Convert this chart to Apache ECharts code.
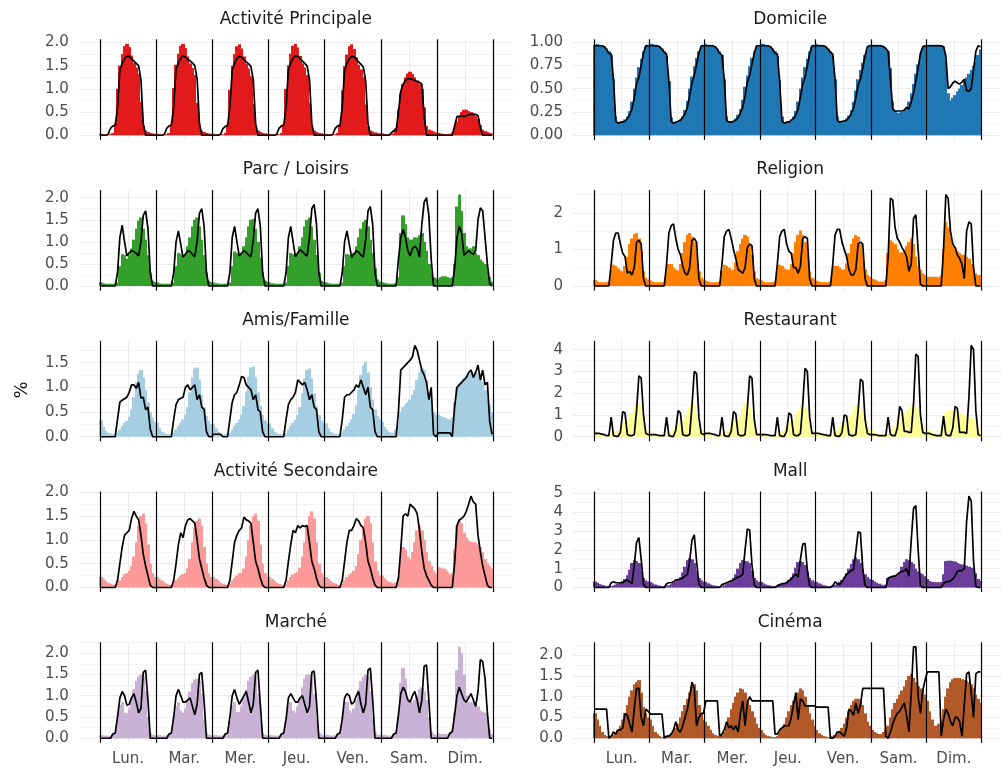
<!DOCTYPE html>
<html><head><meta charset="utf-8">
<script src="https://cdn.jsdelivr.net/npm/echarts@6/dist/echarts.min.js"></script>
<style>html,body{margin:0;padding:0;background:#fff}#c{width:1001px;height:771px}</style>
</head><body><div id="c"></div>
<script>
const days = ['Lun.','Mar.','Mer.','Jeu.','Ven.','Sam.','Dim.'];
const dayCenters = [12,36,60,84,108,132,156];
const dayBounds = [0,24,48,72,96,120,144,168];
const titles = ['Activité Principale','Domicile','Parc / Loisirs','Religion','Amis/Famille','Restaurant','Activité Secondaire','Mall','Marché','Cinéma'];
const ticksHalf = [0,0.5,1,1.5,2];
const minorHalf = [0.25,0.75,1.25,1.75,2.25];
const ticksQuarter = [0,0.25,0.5,0.75,1];
const minorQuarter = [0.125,0.375,0.625,0.875];
const ticksUnit = [0,1,2,3,4,5];
const minorUnit = [0.5,1.5,2.5,3.5,4.5];

const apBars = [
0.03,0.02,0.01,0.01,0.02,0.05,0.25,1.0,1.5,1.75,1.92,1.97,1.9,1.72,1.56,1.46,1.32,0.72,0.2,0.1,0.07,0.05,0.04,0.03,
0.03,0.02,0.01,0.01,0.02,0.05,0.24,1.02,1.52,1.76,1.93,1.97,1.88,1.7,1.55,1.45,1.3,0.7,0.2,0.1,0.07,0.05,0.04,0.03,
0.03,0.02,0.01,0.01,0.02,0.05,0.23,0.98,1.5,1.75,1.92,1.96,1.87,1.7,1.54,1.44,1.28,0.68,0.19,0.1,0.07,0.05,0.04,0.03,
0.03,0.02,0.01,0.01,0.02,0.05,0.24,1.0,1.51,1.76,1.93,1.97,1.89,1.71,1.55,1.46,1.3,0.71,0.2,0.1,0.07,0.05,0.04,0.03,
0.03,0.02,0.01,0.01,0.02,0.05,0.23,0.97,1.49,1.74,1.92,1.96,1.86,1.68,1.52,1.42,1.25,0.66,0.19,0.1,0.08,0.06,0.05,0.04,
0.04,0.03,0.02,0.02,0.02,0.04,0.15,0.55,0.9,1.1,1.25,1.33,1.37,1.32,1.25,1.18,1.1,1.0,0.6,0.2,0.12,0.1,0.08,0.06,
0.05,0.04,0.03,0.02,0.02,0.03,0.06,0.15,0.3,0.42,0.5,0.55,0.55,0.52,0.5,0.46,0.42,0.35,0.22,0.12,0.09,0.07,0.05,0.04];
const apLine = [
0,0,0,0.02,0.15,0.2,0.2,0.6,1.4,1.55,1.65,1.7,1.7,1.65,1.6,1.55,1.5,1.2,0.25,0,0,0,0,0,
0,0,0,0.02,0.15,0.2,0.21,0.62,1.42,1.56,1.66,1.71,1.69,1.64,1.6,1.56,1.5,1.22,0.26,0,0,0,0,0,
0,0,0,0.02,0.14,0.19,0.2,0.6,1.4,1.55,1.65,1.7,1.68,1.63,1.58,1.54,1.48,1.2,0.25,0,0,0,0,0,
0,0,0,0.02,0.15,0.2,0.21,0.61,1.41,1.56,1.66,1.71,1.7,1.65,1.6,1.55,1.49,1.21,0.25,0,0,0,0,0,
0,0,0,0.02,0.15,0.2,0.2,0.6,1.4,1.55,1.65,1.7,1.69,1.64,1.58,1.53,1.47,1.18,0.24,0,0,0,0,0,
0,0,0,0,0.05,0.1,0.1,0.5,0.95,1.1,1.18,1.22,1.22,1.2,1.18,1.16,1.14,1.1,0.4,0,0,0,0,0,
0,0,0,0,0,0,0,0.2,0.4,0.41,0.42,0.4,0.42,0.44,0.45,0.45,0.45,0.42,0.15,0,0,0,0,0];

const domBars = [
0.97,0.98,0.97,0.96,0.95,0.93,0.9,0.86,0.6,0.2,0.14,0.14,0.15,0.17,0.2,0.26,0.36,0.5,0.62,0.73,0.82,0.9,0.95,0.97,
0.98,0.98,0.97,0.96,0.95,0.93,0.9,0.85,0.58,0.19,0.14,0.14,0.15,0.17,0.2,0.27,0.37,0.5,0.63,0.74,0.83,0.9,0.95,0.97,
0.98,0.97,0.97,0.96,0.95,0.93,0.9,0.86,0.6,0.2,0.15,0.14,0.15,0.18,0.22,0.28,0.38,0.52,0.64,0.74,0.83,0.9,0.95,0.97,
0.98,0.98,0.97,0.96,0.95,0.93,0.9,0.85,0.59,0.2,0.14,0.14,0.15,0.17,0.2,0.26,0.36,0.5,0.62,0.73,0.82,0.9,0.95,0.97,
0.98,0.97,0.97,0.96,0.95,0.93,0.9,0.85,0.6,0.2,0.15,0.15,0.16,0.18,0.21,0.27,0.36,0.48,0.6,0.7,0.78,0.86,0.92,0.95,
0.97,0.97,0.97,0.97,0.96,0.95,0.93,0.9,0.72,0.36,0.26,0.24,0.24,0.25,0.27,0.3,0.36,0.45,0.55,0.66,0.76,0.86,0.93,0.96,
0.97,0.97,0.97,0.97,0.97,0.97,0.96,0.95,0.8,0.45,0.37,0.4,0.43,0.47,0.5,0.54,0.58,0.62,0.66,0.7,0.74,0.8,0.86,0.92];
const domLine = [
0.96,0.96,0.96,0.96,0.95,0.92,0.88,0.87,0.6,0.15,0.13,0.14,0.14,0.15,0.18,0.22,0.28,0.4,0.55,0.62,0.75,0.88,0.96,0.96,
0.96,0.96,0.96,0.96,0.95,0.92,0.89,0.87,0.58,0.15,0.13,0.14,0.15,0.16,0.19,0.23,0.3,0.42,0.56,0.64,0.76,0.88,0.96,0.96,
0.96,0.96,0.96,0.96,0.95,0.92,0.88,0.86,0.6,0.16,0.14,0.14,0.15,0.16,0.19,0.24,0.3,0.42,0.57,0.64,0.76,0.88,0.96,0.96,
0.96,0.96,0.96,0.96,0.95,0.92,0.88,0.87,0.58,0.15,0.13,0.14,0.14,0.16,0.18,0.22,0.28,0.41,0.55,0.62,0.75,0.87,0.96,0.96,
0.96,0.96,0.96,0.96,0.95,0.92,0.89,0.87,0.6,0.16,0.14,0.15,0.15,0.16,0.19,0.23,0.29,0.4,0.54,0.6,0.72,0.85,0.95,0.96,
0.96,0.96,0.96,0.96,0.96,0.95,0.93,0.9,0.6,0.28,0.26,0.26,0.26,0.26,0.27,0.3,0.28,0.36,0.45,0.58,0.72,0.88,0.95,0.96,
0.96,0.96,0.96,0.96,0.96,0.96,0.96,0.95,0.85,0.5,0.52,0.56,0.58,0.56,0.55,0.57,0.6,0.48,0.47,0.5,0.7,0.9,0.96,0.95];

const parcBars = [
0.08,0.06,0.05,0.05,0.05,0.05,0.05,0.08,0.45,0.72,0.7,0.62,0.7,0.85,1.05,1.3,1.48,1.55,1.3,1.05,0.7,0.3,0.12,0.09,
0.08,0.06,0.05,0.05,0.05,0.05,0.05,0.08,0.45,0.75,0.72,0.65,0.72,0.9,1.1,1.35,1.5,1.55,1.35,1.05,0.7,0.3,0.12,0.09,
0.08,0.06,0.05,0.05,0.05,0.05,0.05,0.08,0.45,0.78,0.75,0.68,0.75,0.9,1.1,1.35,1.5,1.52,1.3,1.0,0.65,0.3,0.12,0.09,
0.08,0.06,0.05,0.05,0.05,0.05,0.05,0.08,0.45,0.75,0.72,0.65,0.72,0.9,1.1,1.35,1.5,1.55,1.35,1.05,0.7,0.3,0.12,0.09,
0.08,0.06,0.05,0.05,0.05,0.05,0.05,0.08,0.45,0.72,0.7,0.65,0.75,0.9,1.1,1.3,1.45,1.5,1.35,1.05,0.75,0.4,0.15,0.1,
0.08,0.07,0.06,0.05,0.05,0.05,0.06,0.2,1.2,1.6,1.4,1.1,1.05,1.05,1.1,1.1,1.15,1.2,1.0,0.8,0.5,0.3,0.2,0.18,
0.15,0.2,0.22,0.22,0.2,0.18,0.2,0.5,1.8,2.07,1.7,1.2,0.9,0.85,0.85,0.9,0.75,0.7,0.6,0.55,0.5,0.35,0.2,0.1];
const parcLine = [
0,0,0,0,0,0,0,0.3,1.1,1.38,1.0,0.68,0.75,0.8,0.78,0.74,0.68,1.0,1.6,1.7,1.3,0.3,0,0,
0,0,0,0,0,0,0,0.3,1.0,1.25,0.95,0.65,0.72,0.8,0.78,0.72,0.66,1.0,1.65,1.75,1.35,0.3,0,0,
0,0,0,0,0,0,0,0.3,1.1,1.35,1.0,0.68,0.74,0.8,0.76,0.7,0.66,1.05,1.65,1.75,1.35,0.3,0,0,
0,0,0,0,0,0,0,0.3,1.1,1.35,1.0,0.66,0.75,0.82,0.78,0.72,0.68,1.1,1.75,1.85,1.4,0.3,0,0,
0,0,0,0,0,0,0,0.3,1.0,1.25,0.95,0.65,0.72,0.8,0.76,0.7,0.66,1.05,1.7,1.8,1.4,0.3,0,0,
0,0,0,0,0,0,0,0.6,1.1,1.28,1.1,0.8,0.68,0.85,0.9,0.85,0.65,1.4,1.9,2.0,1.6,0.6,0,0,
0,0,0,0,0,0,0,0.4,1.1,1.35,1.2,0.7,0.75,0.8,0.75,0.72,0.8,1.5,1.77,1.7,1.1,0.5,0.05,0];

const relBars = [
0.16,0.12,0.1,0.1,0.1,0.1,0.12,0.45,0.58,0.55,0.48,0.42,0.4,0.55,0.8,1.15,1.3,1.42,1.45,1.3,0.95,0.4,0.22,0.18,
0.15,0.12,0.1,0.1,0.1,0.1,0.12,0.4,0.6,0.6,0.5,0.45,0.42,0.6,0.9,1.2,1.4,1.45,1.35,1.2,0.9,0.4,0.22,0.18,
0.15,0.12,0.1,0.1,0.1,0.1,0.12,0.42,0.58,0.55,0.5,0.42,0.45,0.65,0.95,1.15,1.3,1.4,1.35,1.1,0.85,0.4,0.22,0.18,
0.15,0.12,0.1,0.1,0.1,0.1,0.12,0.42,0.58,0.55,0.48,0.45,0.45,0.6,0.9,1.2,1.4,1.52,1.4,1.2,0.9,0.4,0.22,0.18,
0.15,0.12,0.1,0.1,0.1,0.1,0.12,0.4,0.55,0.55,0.5,0.45,0.45,0.62,0.9,1.15,1.3,1.4,1.35,1.15,0.9,0.45,0.3,0.25,
0.2,0.18,0.15,0.12,0.12,0.12,0.15,0.9,1.25,1.2,1.15,1.0,0.9,0.92,1.0,1.1,1.2,1.3,1.15,0.8,0.55,0.45,0.35,0.3,
0.25,0.25,0.25,0.25,0.25,0.25,0.3,1.0,1.75,1.6,1.35,1.1,1.05,0.95,0.9,0.85,0.85,0.8,0.75,0.6,0.45,0.35,0.3,0.3];
const relLine = [
0,0,0,0,0,0,0,0.6,1.25,1.45,1.45,1.15,0.9,0.8,0.35,0.4,0.3,0.5,1.2,1.25,1.15,0.2,0,0,
0,0,0,0,0,0,0,0.6,1.45,1.65,1.7,1.3,1.0,0.85,0.55,0.35,0.3,0.5,1.25,1.3,1.2,0.2,0,0,
0,0,0,0,0,0,0,0.6,1.35,1.5,1.55,1.3,1.0,0.75,0.45,0.4,0.35,0.5,1.05,1.15,1.1,0.2,0,0,
0,0,0,0,0,0,0,0.6,1.35,1.5,1.55,1.15,0.95,0.9,0.5,0.5,0.35,0.55,1.3,1.35,1.3,0.2,0,0,
0,0,0,0,0,0,0,0.6,1.4,1.55,1.55,1.2,1.0,0.8,0.45,0.3,0.3,0.45,1.15,1.2,1.15,0.2,0,0,
0,0,0,0,0,0,0,0.8,2.4,2.35,1.6,1.3,1.2,1.05,0.95,0.8,0.4,0.6,1.85,1.95,1.0,0.05,0,0,
0,0,0,0,0,0,0,1.0,2.5,2.4,1.5,1.15,1.05,0.85,0.75,0.6,0.2,1.5,1.75,1.7,0.5,0,0,0];

const amisBars = [
0.33,0.2,0.12,0.08,0.06,0.05,0.05,0.08,0.15,0.22,0.28,0.32,0.4,0.55,0.8,1.1,1.28,1.35,1.2,0.95,0.7,0.5,0.38,0.3,
0.28,0.18,0.1,0.07,0.05,0.05,0.05,0.08,0.15,0.22,0.28,0.35,0.45,0.6,0.9,1.2,1.38,1.4,1.15,0.85,0.6,0.42,0.32,0.26,
0.26,0.17,0.1,0.07,0.05,0.05,0.05,0.08,0.15,0.22,0.28,0.35,0.45,0.62,0.92,1.22,1.4,1.42,1.2,0.9,0.62,0.44,0.33,0.27,
0.27,0.17,0.1,0.07,0.05,0.05,0.05,0.08,0.15,0.22,0.28,0.34,0.44,0.6,0.88,1.18,1.35,1.38,1.18,0.88,0.62,0.44,0.33,0.27,
0.27,0.17,0.1,0.07,0.05,0.05,0.05,0.08,0.15,0.22,0.28,0.35,0.46,0.64,0.95,1.25,1.45,1.52,1.3,1.0,0.75,0.55,0.42,0.35,
0.3,0.2,0.15,0.1,0.08,0.08,0.15,0.3,0.5,0.6,0.65,0.7,0.75,0.85,0.95,1.15,1.3,1.38,1.35,1.15,0.85,0.6,0.5,0.45,
0.45,0.42,0.4,0.38,0.36,0.35,0.4,0.7,1.0,1.08,1.12,1.18,1.22,1.26,1.3,1.32,1.3,1.28,1.2,1.1,0.95,0.8,0.65,0.5];
const amisLine = [
0,0,0,0,0,0,0,0.35,0.7,0.74,0.77,0.8,0.9,1.05,1.05,0.98,1.1,0.78,0.8,0.55,0.6,0.15,0,0,
0,0,0,0,0,0,0,0.35,0.65,0.75,0.78,0.8,1.0,1.05,0.95,1.0,1.05,0.75,0.85,0.6,0.55,0.1,0,0,
0.05,0.05,0.05,0.05,0,0,0,0.35,0.7,0.85,0.9,1.05,1.22,1.2,1.05,1.0,0.95,0.75,0.85,0.55,0.5,0.1,0,0,
0,0,0,0,0,0,0,0.35,0.65,0.75,0.8,0.9,1.15,1.1,1.05,1.1,0.95,0.75,0.85,0.6,0.55,0.1,0,0,
0,0,0,0,0,0,0,0.35,0.8,0.85,0.85,0.9,0.95,1.05,1.0,1.15,1.0,0.85,1.0,0.6,0.55,0.1,0,0,
0,0,0,0,0,0,0,0.5,1.35,1.4,1.45,1.5,1.55,1.62,1.85,1.75,1.55,1.35,1.25,1.1,0.75,1.0,0.05,0,
0.08,0.08,0.08,0.08,0.08,0.08,0,0.6,1.0,1.05,1.1,1.15,1.2,1.3,1.35,1.2,1.3,1.45,1.15,1.35,1.05,1.1,0.3,0.05];

const restoBars = [
0.25,0.15,0.1,0.08,0.06,0.05,0.05,0.1,0.15,0.2,0.3,0.45,0.6,0.7,0.75,0.85,1.1,1.4,1.6,1.5,1.1,0.6,0.35,0.25,
0.2,0.15,0.1,0.08,0.06,0.05,0.05,0.1,0.15,0.2,0.3,0.45,0.6,0.7,0.75,0.85,1.1,1.35,1.55,1.45,1.05,0.55,0.3,0.2,
0.2,0.15,0.1,0.08,0.06,0.05,0.05,0.1,0.15,0.25,0.35,0.5,0.65,0.75,0.8,0.95,1.3,1.6,1.55,1.3,0.9,0.5,0.3,0.2,
0.2,0.15,0.1,0.08,0.06,0.05,0.05,0.1,0.15,0.25,0.35,0.5,0.6,0.7,0.75,0.9,1.2,1.4,1.45,1.35,1.0,0.55,0.3,0.25,
0.25,0.15,0.1,0.08,0.06,0.05,0.05,0.1,0.2,0.3,0.4,0.55,0.7,0.8,0.85,1.0,1.2,1.4,1.45,1.4,1.2,0.8,0.45,0.35,
0.35,0.3,0.2,0.15,0.1,0.08,0.08,0.15,0.25,0.35,0.5,0.7,0.9,1.05,1.1,1.2,1.3,1.4,1.45,1.4,1.2,0.9,0.6,0.45,
0.35,0.3,0.2,0.15,0.12,0.15,0.4,0.85,1.1,1.2,1.22,1.22,1.2,1.15,1.1,1.05,1.0,0.95,0.9,0.88,0.8,0.6,0.4,0.3];
const restoLine = [
0.15,0.15,0.15,0.12,0.1,0.05,0.05,0.9,0.05,0.02,0.02,0.2,1.15,1.1,0.1,0.05,0.05,0.1,1.2,2.8,2.7,1.0,0.15,0.1,
0.1,0.1,0.1,0.08,0.05,0.05,0.05,0.9,0.05,0.02,0.02,0.3,1.2,1.1,0.1,0.05,0.05,0.1,1.4,3.0,2.9,0.9,0.15,0.1,
0.15,0.15,0.15,0.12,0.1,0.05,0.05,0.9,0.05,0.02,0.02,0.25,1.15,1.05,0.1,0.05,0.05,0.1,1.3,2.8,2.7,0.8,0.1,0.1,
0.1,0.1,0.1,0.08,0.05,0.05,0.05,0.9,0.05,0.02,0.02,0.25,1.1,1.0,0.1,0.05,0.05,0.15,1.5,3.15,3.0,0.9,0.15,0.15,
0.15,0.15,0.12,0.1,0.08,0.05,0.05,0.9,0.05,0.02,0.02,0.2,1.0,0.95,0.1,0.05,0.05,0.1,1.2,2.65,2.55,0.8,0.15,0.1,
0.1,0.1,0.08,0.05,0.05,0.05,0.05,0.9,0.1,0.05,0.05,0.4,1.4,1.2,0.25,0.25,0.2,0.2,1.5,3.8,3.7,1.0,0.2,0.15,
0.15,0.15,0.1,0.08,0.05,0.05,0.05,0.95,0.1,0.05,0.05,0.4,1.4,1.3,0.2,0.2,0.2,0.15,1.8,4.2,4.0,1.2,0.1,0.05];

const secBars = [
0.22,0.18,0.14,0.1,0.08,0.06,0.05,0.08,0.15,0.22,0.28,0.3,0.35,0.45,0.65,0.95,1.3,1.5,1.55,1.35,0.9,0.5,0.3,0.22,
0.22,0.18,0.14,0.1,0.08,0.06,0.05,0.08,0.15,0.2,0.25,0.28,0.3,0.4,0.6,0.95,1.25,1.4,1.45,1.3,0.85,0.5,0.3,0.22,
0.22,0.18,0.14,0.1,0.08,0.06,0.05,0.08,0.15,0.2,0.25,0.3,0.3,0.4,0.65,1.0,1.3,1.5,1.55,1.4,0.9,0.5,0.3,0.22,
0.22,0.18,0.14,0.1,0.08,0.06,0.05,0.08,0.15,0.22,0.27,0.3,0.32,0.42,0.65,0.95,1.3,1.5,1.6,1.45,0.95,0.5,0.3,0.22,
0.22,0.18,0.14,0.1,0.08,0.06,0.05,0.08,0.15,0.22,0.27,0.3,0.35,0.45,0.7,1.0,1.3,1.45,1.5,1.35,0.95,0.55,0.35,0.25,
0.25,0.2,0.15,0.12,0.1,0.08,0.1,0.2,0.6,0.85,0.8,0.65,0.6,0.75,0.95,1.2,1.3,1.2,1.0,0.75,0.55,0.45,0.35,0.3,
0.42,0.42,0.4,0.38,0.33,0.28,0.3,0.8,1.3,1.4,1.35,1.15,1.05,0.98,0.96,0.95,0.95,0.9,0.85,0.75,0.6,0.5,0.45,0.4];
const secLine = [
0,0,0,0,0,0,0,0.15,0.5,0.85,1.1,1.15,1.2,1.45,1.6,1.5,1.42,1.1,0.7,0.45,0.25,0.05,0,0,
0,0,0,0,0,0,0,0.15,0.5,0.9,1.15,1.05,1.3,1.42,1.45,1.4,1.35,1.0,0.6,0.4,0.2,0.05,0,0,
0,0,0,0,0,0,0,0.15,0.55,0.95,1.1,1.2,1.25,1.48,1.42,1.4,1.35,0.95,0.55,0.4,0.2,0.05,0,0,
0,0,0,0,0,0,0,0.15,0.55,0.9,1.2,1.15,1.3,1.25,1.3,1.28,1.3,0.95,0.55,0.4,0.2,0.05,0,0,
0,0,0,0,0,0,0,0.15,0.55,0.95,1.2,1.2,1.3,1.45,1.4,1.3,1.25,0.95,0.55,0.4,0.2,0.05,0,0,
0,0,0,0,0,0,0,0.2,0.8,1.5,1.55,1.5,1.75,1.7,1.65,1.55,1.2,0.75,0.4,0.25,0.15,0.05,0,0,
0,0,0,0,0,0,0,0.5,1.3,1.42,1.45,1.5,1.6,1.75,1.92,1.8,1.75,1.1,0.75,0.45,0.25,0.05,0,0];

const mallBars = [
0.31,0.25,0.18,0.14,0.1,0.08,0.08,0.08,0.1,0.15,0.2,0.25,0.35,0.45,0.65,0.95,1.3,1.45,1.4,1.3,0.9,0.5,0.38,0.32,
0.3,0.22,0.16,0.12,0.1,0.08,0.08,0.08,0.12,0.18,0.25,0.3,0.4,0.55,0.8,1.1,1.45,1.55,1.5,1.3,0.9,0.5,0.38,0.3,
0.3,0.22,0.16,0.12,0.1,0.08,0.08,0.08,0.12,0.18,0.25,0.35,0.5,0.7,1.0,1.3,1.45,1.4,1.38,1.3,0.9,0.5,0.38,0.3,
0.3,0.22,0.16,0.12,0.1,0.08,0.08,0.08,0.12,0.18,0.25,0.3,0.4,0.55,0.75,1.05,1.35,1.4,1.35,1.2,0.85,0.5,0.38,0.3,
0.3,0.22,0.16,0.12,0.1,0.08,0.08,0.1,0.15,0.2,0.3,0.4,0.55,0.75,1.0,1.25,1.5,1.6,1.5,1.3,1.0,0.7,0.55,0.45,
0.4,0.32,0.25,0.2,0.15,0.12,0.15,0.5,0.55,0.6,0.62,0.65,0.8,1.1,1.35,1.5,1.45,1.35,1.25,1.0,0.85,0.75,0.7,0.6,
0.45,0.35,0.3,0.28,0.28,0.28,0.3,0.7,1.4,1.42,1.42,1.4,1.38,1.3,1.25,1.22,1.2,1.15,1.1,1.05,1.0,0.75,0.45,0.35];
const mallLine = [
0,0,0,0,0,0,0,0.25,0.3,0.25,0.25,0.25,0.25,0.35,0.4,0.3,0.2,1.2,2.4,2.65,1.5,0.2,0,0,
0,0,0,0,0,0,0,0.2,0.25,0.25,0.3,0.4,0.42,0.45,0.5,0.6,0.7,1.4,2.5,2.8,1.4,0.2,0,0,
0,0,0,0,0,0,0,0.15,0.2,0.25,0.3,0.35,0.4,0.5,0.55,0.6,0.7,2.0,3.1,3.05,1.2,0.15,0,0,
0,0,0,0,0,0,0,0.1,0.15,0.2,0.2,0.25,0.35,0.45,0.6,0.7,0.55,1.5,2.3,2.35,0.9,0.1,0,0,
0,0,0,0,0,0,0,0.1,0.3,0.2,0.15,0.3,0.5,0.7,0.8,0.9,0.95,1.9,2.95,2.9,1.0,0.1,0,0,
0,0,0,0,0,0,0,0.5,0.55,0.6,0.6,0.7,0.8,0.85,0.9,1.0,0.6,2.5,4.2,4.35,2.0,0.1,0,0,
0,0,0,0,0,0,0,0.2,0.3,0.3,0.35,0.45,0.6,0.85,0.9,0.9,1.0,3.5,4.85,4.6,1.4,0.05,0,0];

const marcheBars = [
0.08,0.07,0.06,0.06,0.06,0.08,0.1,0.4,0.78,0.85,0.6,0.6,0.7,0.95,1.15,1.35,1.45,1.5,1.45,1.1,0.5,0.12,0.08,0.08,
0.08,0.07,0.06,0.06,0.06,0.08,0.1,0.4,0.75,0.85,0.65,0.6,0.7,0.9,1.1,1.3,1.38,1.4,1.35,1.05,0.45,0.12,0.08,0.08,
0.08,0.07,0.06,0.06,0.06,0.08,0.1,0.4,0.78,0.85,0.62,0.62,0.75,0.95,1.15,1.35,1.45,1.5,1.45,1.05,0.45,0.12,0.08,0.08,
0.08,0.07,0.06,0.06,0.06,0.08,0.1,0.4,0.75,0.85,0.65,0.6,0.75,0.95,1.2,1.4,1.5,1.5,1.4,1.05,0.45,0.12,0.08,0.08,
0.08,0.07,0.06,0.06,0.06,0.08,0.1,0.4,0.75,0.85,0.65,0.6,0.7,0.9,1.15,1.35,1.45,1.5,1.45,1.1,0.5,0.12,0.08,0.08,
0.08,0.08,0.07,0.06,0.06,0.08,0.12,0.5,1.3,1.65,1.4,0.95,0.85,0.85,0.9,1.0,1.15,1.2,1.1,0.9,0.5,0.15,0.1,0.08,
0.12,0.1,0.1,0.1,0.1,0.12,0.2,0.6,1.6,2.15,2.0,1.5,1.0,0.85,0.85,0.82,0.8,0.75,0.65,0.62,0.6,0.45,0.2,0.1];
const marcheLine = [
0,0,0,0,0,0.1,0.12,0.5,0.95,1.1,1.0,0.78,0.8,0.95,1.05,0.85,0.6,0.7,1.55,1.6,0.9,0,0,0,
0,0,0,0,0,0.1,0.12,0.5,1.0,1.15,1.0,0.85,0.85,0.9,0.95,0.75,0.55,0.8,1.5,1.55,0.85,0,0,0,
0,0,0,0,0,0.1,0.12,0.5,1.0,1.15,0.95,0.8,0.9,1.0,1.1,0.85,0.6,0.8,1.55,1.6,0.8,0,0,0,
0,0,0,0,0,0.1,0.12,0.45,0.95,1.05,0.95,0.85,0.85,0.95,1.0,0.8,0.6,0.75,1.55,1.58,0.85,0,0,0,
0,0,0,0,0,0.1,0.12,0.45,0.95,1.05,1.0,0.8,0.85,1.0,1.1,0.8,0.6,0.8,1.6,1.65,0.9,0,0,0,
0,0,0,0,0,0.1,0.12,0.55,1.05,1.2,1.1,0.9,0.85,1.0,1.1,0.9,0.6,0.9,1.7,1.72,0.9,0,0,0,
0,0,0,0,0,0.12,0.15,0.55,1.0,1.2,1.05,0.9,0.85,0.95,1.05,0.9,0.75,1.1,1.85,1.8,1.4,0.6,0,0];

const cineBars = [
0.6,0.45,0.3,0.15,0.08,0.05,0.03,0.05,0.08,0.12,0.2,0.3,0.45,0.6,0.8,1.0,1.15,1.3,1.35,1.4,1.1,0.75,0.6,0.5,
0.45,0.3,0.15,0.1,0.05,0.03,0.03,0.05,0.08,0.12,0.2,0.25,0.35,0.5,0.65,0.8,0.95,1.1,1.25,1.3,1.15,0.8,0.6,0.45,
0.4,0.3,0.2,0.12,0.08,0.05,0.05,0.08,0.15,0.3,0.5,0.7,0.85,1.0,1.1,1.2,1.18,1.1,0.95,0.8,0.65,0.5,0.35,0.25,
0.2,0.12,0.08,0.05,0.04,0.03,0.03,0.05,0.15,0.25,0.35,0.5,0.65,0.8,0.9,1.0,1.1,1.2,1.15,1.0,0.8,0.6,0.45,0.3,
0.2,0.12,0.08,0.05,0.04,0.03,0.03,0.05,0.08,0.12,0.18,0.25,0.35,0.5,0.65,0.8,0.9,0.95,0.95,0.9,0.8,0.6,0.4,0.3,
0.2,0.15,0.12,0.1,0.1,0.15,0.22,0.3,0.5,0.7,0.85,0.95,1.05,1.15,1.25,1.4,1.5,1.55,1.45,1.35,1.25,1.2,1.15,1.05,
0.9,0.65,0.45,0.3,0.3,0.35,0.45,0.7,1.0,1.2,1.35,1.42,1.45,1.45,1.45,1.42,1.4,1.38,1.35,1.3,1.2,1.05,0.95,0.85];
const cineLine = [
0.7,0.7,0.7,0.7,0.7,0.7,0,0.05,0.15,0.1,0.2,0.2,0.25,0.6,0.55,0.35,0.15,0.7,1.2,1.2,0.5,0.3,0.7,0.65,
0.58,0.58,0.58,0.58,0.58,0.58,0,0.05,0.05,0.1,0.2,0.4,0.2,0.15,0.3,0.5,0.7,1.0,1.35,1.2,0.3,0.5,0.6,0.6,
0.9,0.9,0.9,0.9,0.9,0.9,0.05,0.1,0.2,0.4,0.25,0.3,0.2,0.3,0.15,0.6,0.9,0.3,0.85,1.0,0.9,0.9,0.9,0.9,
0.9,0.9,0.9,0.9,0.9,0.9,0.1,0.1,0.2,0.25,0.3,0.3,0.3,0.5,0.8,1.1,0.45,0.95,0.9,0.78,0.78,0.78,0.78,0.78,
0.75,0.75,0.75,0.75,0.75,0.75,0,0,0.05,0.15,0.15,0.1,0.05,0.25,0.7,0.65,0.55,0.85,0.6,0.8,1.2,1.2,1.2,1.2,
1.2,1.2,1.2,1.2,1.2,1.2,0.05,0,0.15,0.35,0.5,0.6,0.65,0.75,0.85,0.55,0.15,1.1,2.2,2.2,1.0,0.6,1.15,1.4,
1.6,1.6,1.6,1.6,1.6,1.6,0.05,0.45,0.7,0.6,0.4,0.3,0.5,0.5,0.4,0.05,0.8,1.55,1.6,1.1,0.5,1.55,1.6,1.6];

const panels = [
  {bars: apBars, line: apLine, color: '#E31A1C', ticks: ticksHalf, minor: minorHalf, dec: 1},
  {bars: domBars, line: domLine, color: '#1F78B4', ticks: ticksQuarter, minor: minorQuarter, dec: 2},
  {bars: parcBars, line: parcLine, color: '#33A02C', ticks: ticksHalf, minor: minorHalf, dec: 1},
  {bars: relBars, line: relLine, color: '#FF7F00', ticks: ticksUnit, minor: minorUnit, dec: 0},
  {bars: amisBars, line: amisLine, color: '#A6CEE3', ticks: ticksHalf, minor: minorHalf, dec: 1},
  {bars: restoBars, line: restoLine, color: '#FFFF99', ticks: ticksUnit, minor: minorUnit, dec: 0},
  {bars: secBars, line: secLine, color: '#FB9A99', ticks: ticksHalf, minor: minorHalf, dec: 1},
  {bars: mallBars, line: mallLine, color: '#6A3D9A', ticks: ticksUnit, minor: minorUnit, dec: 0},
  {bars: marcheBars, line: marcheLine, color: '#CAB2D6', ticks: ticksHalf, minor: minorHalf, dec: 1},
  {bars: cineBars, line: cineLine, color: '#B15928', ticks: ticksHalf, minor: minorHalf, dec: 1}
];

const FONT = 'DejaVu Sans';
const grid = [], xAxis = [], yAxis = [], series = [], graphic = [];
panels.forEach((p, i) => {
  const row = Math.floor(i / 2), col = i % 2;
  const top = 39.3 + row * 150.75, height = 100.5;
  const left = col ? 573.1 : 78.9, width = col ? 435.9 : 434;
  grid.push({left: left, top: top, width: width, height: height});
  const M = Math.max(Math.max.apply(null, p.bars), Math.max.apply(null, p.line));
  const ymin = -0.05 * M, ymax = 1.05 * M;
  xAxis.push({
    type: 'value', gridIndex: i, min: -9, max: 176.4,
    axisLine: {show: false},
    axisTick: {show: false, customValues: dayCenters},
    axisLabel: {show: row === 4, customValues: dayCenters,
      formatter: v => days[Math.round((v - 12) / 24)],
      color: '#4D4D4D', fontSize: 15, fontFamily: FONT, margin: 9},
    splitLine: {show: true, lineStyle: {color: '#EBEBEB', width: 1}}
  });
  yAxis.push({
    type: 'value', gridIndex: i, min: ymin, max: ymax, position: 'left',
    axisLine: {show: false},
    axisTick: {show: false, customValues: p.ticks},
    axisLabel: {customValues: p.ticks, formatter: v => v.toFixed(p.dec),
      color: '#4D4D4D', fontSize: 15, fontFamily: FONT, margin: 10},
    splitLine: {show: true, lineStyle: {color: '#EBEBEB', width: 1}}
  });
  yAxis.push({
    type: 'value', gridIndex: i, min: ymin, max: ymax, position: 'left',
    axisLine: {show: false},
    axisTick: {show: false, customValues: p.minor},
    axisLabel: {show: false},
    splitLine: {show: true, lineStyle: {color: '#F4F4F4', width: 1}}
  });
  series.push({
    type: 'custom', xAxisIndex: i, yAxisIndex: 2 * i, silent: true, animation: false, z: 2,
    data: p.bars.map((v, h) => [h, v]),
    encode: {x: 0, y: 1},
    renderItem: function (params, api) {
      const x = api.value(0), y = api.value(1);
      const a = api.coord([x, y]), b = api.coord([x + 1, 0]);
      const x0 = Math.floor(a[0]), x1 = Math.ceil(b[0]);
      return {type: 'rect', shape: {x: x0, y: a[1], width: x1 - x0, height: b[1] - a[1]},
        style: {fill: p.color}};
    }
  });
  series.push({
    type: 'line', xAxisIndex: i, yAxisIndex: 2 * i, silent: true, animation: false, z: 4,
    data: p.line.map((v, h) => [h + 0.5, v]),
    symbol: 'none', showSymbol: false,
    lineStyle: {color: '#000', width: 1.7},
    markLine: {silent: true, animation: false, symbol: ['none', 'none'], label: {show: false},
      lineStyle: {color: '#000', width: 1.2, type: 'solid'},
      emphasis: {disabled: true},
      data: dayBounds.map(d => ({xAxis: d}))}
  });
  graphic.push({type: 'text', x: left + width / 2 - (col ? 0.9 : 0), y: top - 20,
    style: {text: titles[i], fill: '#1A1A1A', fontSize: 17, fontFamily: FONT, align: 'center', verticalAlign: 'middle'}});
});
graphic.push({type: 'text', x: 22, y: 390, rotation: Math.PI / 2,
  style: {text: '%', fill: '#1A1A1A', fontSize: 18, fontFamily: FONT, align: 'center', verticalAlign: 'middle'}});

const chart = echarts.init(document.getElementById('c'), null, {renderer: 'canvas'});
chart.setOption({animation: false, backgroundColor: '#fff', grid, xAxis, yAxis, series, graphic});
</script></body></html>
